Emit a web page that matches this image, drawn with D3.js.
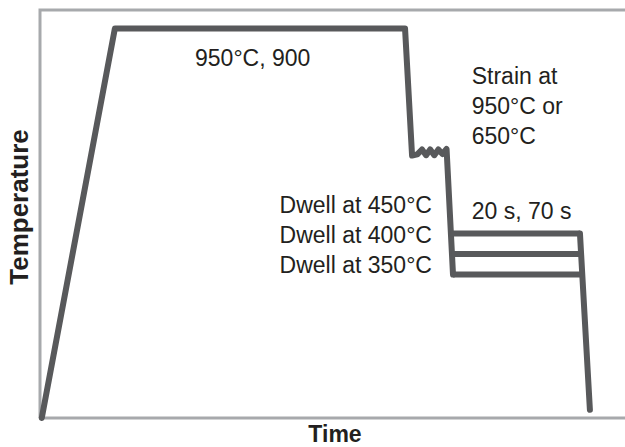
<!DOCTYPE html>
<html>
<head>
<meta charset="utf-8">
<script src="https://cdn.jsdelivr.net/npm/d3@7"></script>
<style>
  html, body { margin: 0; padding: 0; background: #fff; }
  svg { display: block; }
  text { font-family: "Liberation Sans", Arial, sans-serif; fill: #231f20; }
</style>
</head>
<body>
<div id="chart"></div>
<script>
const width = 625;
const height = 447;

// schematic thermal profile: time in arbitrary units, temperature in °C
const profileTime = [0.3, 12.8, 62.4, 63.6, 64.5, 65.3, 66.0, 66.7, 67.4, 68.1, 68.8, 69.5, 70.6];
const profileTemp = [0, 950, 950, 640, 643, 655, 641, 655, 641, 655, 644, 656, 350];

// dwell branches
const dwellTemps = [450, 400, 350];
const dwellStart = [70.2, 70.4, 70.6];
const dwellEnd = [92.3, 92.5, 92.7];

// final quench
const quenchTime = [92.3, 94.0];
const quenchTemp = [450, 20];

const labels = [
  { t: 26.5, T: 858, lines: ["950°C, 900"], anchor: "start" },
  { t: 73.8, T: 814, lines: ["Strain at", "950°C or", "650°C"], anchor: "start" },
  { t: 73.8, T: 485, lines: ["20 s, 70 s"], anchor: "start" },
  { t: 67.0, T: 500, lines: ["Dwell at 450°C", "Dwell at 400°C", "Dwell at 350°C"], anchor: "end" }
];

const xTitle = "Time";
const yTitle = "Temperature";

const lineColor = "#58595b";
const frameColor = "#a7a9ac";

const x = d3.scaleLinear().domain([0, 100]).range([40, 625]);
const y = d3.scaleLinear().domain([0, 1000]).range([418, 8]);

const svg = d3.select("#chart")
    .append("svg")
    .attr("width", width)
    .attr("height", height);

// frame (left, top, bottom)
svg.append("path")
    .attr("d", "M" + x(0) + "," + y(0) + " V" + (y(1000) + 2) + " H" + (width + 5))
    .attr("fill", "none")
    .attr("stroke", frameColor)
    .attr("stroke-width", 3);
svg.append("line")
    .attr("x1", x(0)).attr("x2", width + 5)
    .attr("y1", y(0)).attr("y2", y(0))
    .attr("stroke", frameColor)
    .attr("stroke-width", 3);

const line = d3.line()
    .x(d => x(d[0]))
    .y(d => y(d[1]));

const stroke = sel => sel
    .attr("fill", "none")
    .attr("stroke", lineColor)
    .attr("stroke-width", 6)
    .attr("stroke-linejoin", "round")
    .attr("stroke-linecap", "round");

// Main profile
svg.append("path")
    .attr("d", line(d3.zip(profileTime, profileTemp)))
    .call(stroke);

// Dwell lines
svg.append("g")
    .selectAll("path")
    .data(dwellTemps)
    .enter()
    .append("path")
    .attr("d", (d, i) => line([[dwellStart[i], d], [dwellEnd[i], d]]))
    .call(stroke)
    .attr("stroke-linecap", "butt");

// Quench
svg.append("path")
    .attr("d", line(d3.zip(quenchTime, quenchTemp)))
    .call(stroke);

// Annotations
labels.forEach(l => {
    const t = svg.append("text")
        .attr("x", x(l.t))
        .attr("y", y(l.T))
        .attr("text-anchor", l.anchor)
        .attr("font-size", 23);
    l.lines.forEach((s, i) => {
        t.append("tspan")
            .attr("x", x(l.t))
            .attr("dy", i === 0 ? 0 : 30)
            .text(s);
    });
});

// Axis titles
svg.append("text")
    .attr("x", 335)
    .attr("y", 442)
    .attr("text-anchor", "middle")
    .attr("font-size", 23)
    .attr("font-weight", "bold")
    .text(xTitle);

svg.append("text")
    .attr("transform", "translate(28,207) rotate(-90)")
    .attr("text-anchor", "middle")
    .attr("font-size", 26)
    .attr("font-weight", "bold")
    .text(yTitle);
</script>
</body>
</html>
